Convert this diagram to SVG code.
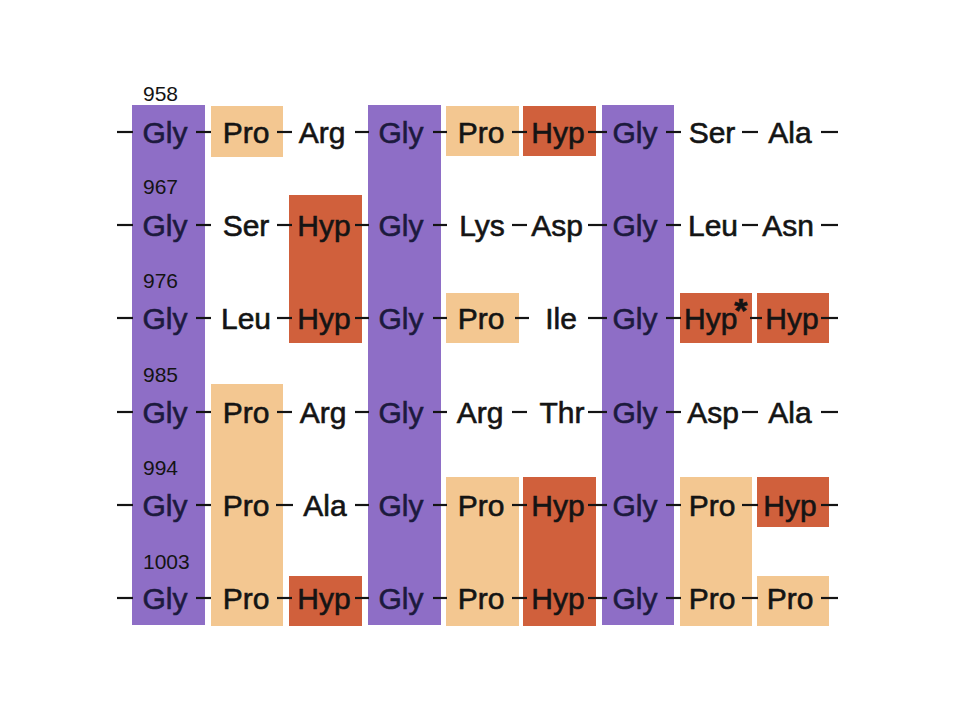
<svg xmlns="http://www.w3.org/2000/svg" width="960" height="720" viewBox="0 0 960 720">
<style>
.pu{fill:#8e6ec6}
.lt{fill:#f3c791}
.dk{fill:#d0603c}
.t{font-family:"Liberation Sans",Arial,sans-serif;font-size:30px;fill:#141414;stroke:#141414;stroke-width:0.6;text-anchor:middle}
.g{fill:#1c1a3e;stroke:#1c1a3e}
.n{font-family:"Liberation Sans",Arial,sans-serif;font-size:21px;fill:#141414}
.c line{stroke:#141414;stroke-width:2.2}
</style>
<rect width="960" height="720" fill="#ffffff"/>
<g id="bands">
<rect class="pu" x="132" y="105" width="73" height="520"/>
<rect class="pu" x="368" y="105" width="73" height="520"/>
<rect class="pu" x="602" y="105" width="72" height="520"/>
<rect class="lt" x="211" y="106" width="72" height="51"/>
<rect class="lt" x="446" y="106" width="73" height="50"/>
<rect class="lt" x="446" y="293" width="73" height="50"/>
<rect class="lt" x="211" y="384" width="72" height="242"/>
<rect class="lt" x="446" y="477" width="73" height="149"/>
<rect class="lt" x="680" y="477" width="72" height="149"/>
<rect class="lt" x="757" y="576" width="72" height="50"/>
<rect class="dk" x="523" y="106" width="73" height="50"/>
<rect class="dk" x="289" y="195" width="73" height="148"/>
<rect class="dk" x="680" y="293" width="72" height="50"/>
<rect class="dk" x="757" y="293" width="72" height="50"/>
<rect class="dk" x="523" y="477" width="73" height="149"/>
<rect class="dk" x="757" y="477" width="72" height="50"/>
<rect class="dk" x="289" y="576" width="73" height="50"/>
</g>
<g id="connectors" class="c">
<g id="conn-row1">
<line x1="117" y1="132" x2="133" y2="132"/><line x1="196" y1="132" x2="211" y2="132"/><line x1="277" y1="132" x2="292" y2="132"/><line x1="355" y1="132" x2="369" y2="132"/><line x1="433" y1="132" x2="447" y2="132"/><line x1="512" y1="132" x2="527" y2="132"/><line x1="588" y1="132" x2="607" y2="132"/><line x1="666" y1="132" x2="681" y2="132"/><line x1="742" y1="132" x2="758" y2="132"/><line x1="821" y1="132" x2="838" y2="132"/>
</g>
<g id="conn-row2">
<line x1="117" y1="225" x2="133" y2="225"/><line x1="196" y1="225" x2="211" y2="225"/><line x1="277" y1="225" x2="292" y2="225"/><line x1="355" y1="225" x2="369" y2="225"/><line x1="433" y1="225" x2="447" y2="225"/><line x1="512" y1="225" x2="527" y2="225"/><line x1="588" y1="225" x2="607" y2="225"/><line x1="666" y1="225" x2="681" y2="225"/><line x1="742" y1="225" x2="758" y2="225"/><line x1="821" y1="225" x2="838" y2="225"/>
</g>
<g id="conn-row3">
<line x1="117" y1="318" x2="133" y2="318"/><line x1="196" y1="318" x2="211" y2="318"/><line x1="277" y1="318" x2="292" y2="318"/><line x1="355" y1="318" x2="369" y2="318"/><line x1="433" y1="318" x2="447" y2="318"/><line x1="515" y1="318" x2="529" y2="318"/><line x1="588" y1="318" x2="607" y2="318"/><line x1="666" y1="318" x2="681" y2="318"/><line x1="750" y1="318" x2="762" y2="318"/><line x1="821" y1="318" x2="838" y2="318"/>
</g>
<g id="conn-row4">
<line x1="117" y1="412" x2="133" y2="412"/><line x1="196" y1="412" x2="211" y2="412"/><line x1="277" y1="412" x2="292" y2="412"/><line x1="355" y1="412" x2="369" y2="412"/><line x1="433" y1="412" x2="447" y2="412"/><line x1="512" y1="412" x2="527" y2="412"/><line x1="588" y1="412" x2="607" y2="412"/><line x1="666" y1="412" x2="681" y2="412"/><line x1="742" y1="412" x2="758" y2="412"/><line x1="821" y1="412" x2="838" y2="412"/>
</g>
<g id="conn-row5">
<line x1="117" y1="505" x2="133" y2="505"/><line x1="196" y1="505" x2="211" y2="505"/><line x1="276" y1="505" x2="293" y2="505"/><line x1="355" y1="505" x2="369" y2="505"/><line x1="433" y1="505" x2="447" y2="505"/><line x1="512" y1="505" x2="527" y2="505"/><line x1="588" y1="505" x2="607" y2="505"/><line x1="666" y1="505" x2="681" y2="505"/><line x1="742" y1="505" x2="758" y2="505"/><line x1="821" y1="505" x2="838" y2="505"/>
</g>
<g id="conn-row6">
<line x1="117" y1="598" x2="133" y2="598"/><line x1="196" y1="598" x2="211" y2="598"/><line x1="277" y1="598" x2="292" y2="598"/><line x1="355" y1="598" x2="369" y2="598"/><line x1="433" y1="598" x2="447" y2="598"/><line x1="512" y1="598" x2="527" y2="598"/><line x1="588" y1="598" x2="607" y2="598"/><line x1="666" y1="598" x2="681" y2="598"/><line x1="742" y1="598" x2="758" y2="598"/><line x1="821" y1="598" x2="838" y2="598"/>
</g>
</g>
<g id="numbers">
<text class="n" x="143" y="101">958</text>
<text class="n" x="143" y="194">967</text>
<text class="n" x="143" y="288">976</text>
<text class="n" x="143" y="382">985</text>
<text class="n" x="143" y="475">994</text>
<text class="n" x="143" y="569">1003</text>
</g>
<g id="row1">
<g id="r1c1"><text class="t g" x="165" y="143">Gly</text></g>
<g id="r1c2"><text class="t" x="246" y="143">Pro</text></g>
<g id="r1c3"><text class="t" x="322" y="143">Arg</text></g>
<g id="r1c4"><text class="t g" x="401" y="143">Gly</text></g>
<g id="r1c5"><text class="t" x="481" y="143">Pro</text></g>
<g id="r1c6"><text class="t" x="558" y="143">Hyp</text></g>
<g id="r1c7"><text class="t g" x="635" y="143">Gly</text></g>
<g id="r1c8"><text class="t" x="712" y="143">Ser</text></g>
<g id="r1c9"><text class="t" x="790" y="143">Ala</text></g>
</g>
<g id="row2">
<g id="r2c1"><text class="t g" x="165" y="236">Gly</text></g>
<g id="r2c2"><text class="t" x="246" y="236">Ser</text></g>
<g id="r2c3"><text class="t" x="324" y="236">Hyp</text></g>
<g id="r2c4"><text class="t g" x="401" y="236">Gly</text></g>
<g id="r2c5"><text class="t" x="482" y="236">Lys</text></g>
<g id="r2c6"><text class="t" x="557" y="236">Asp</text></g>
<g id="r2c7"><text class="t g" x="635" y="236">Gly</text></g>
<g id="r2c8"><text class="t" x="713" y="236">Leu</text></g>
<g id="r2c9"><text class="t" x="788" y="236">Asn</text></g>
</g>
<g id="row3">
<g id="r3c1"><text class="t g" x="165" y="329">Gly</text></g>
<g id="r3c2"><text class="t" x="246" y="329">Leu</text></g>
<g id="r3c3"><text class="t" x="324" y="329">Hyp</text></g>
<g id="r3c4"><text class="t g" x="401" y="329">Gly</text></g>
<g id="r3c5"><text class="t" x="481" y="329">Pro</text></g>
<g id="r3c6"><text class="t" x="561" y="329">Ile</text></g>
<g id="r3c7"><text class="t g" x="635" y="329">Gly</text></g>
<g id="r3c8"><text class="t" x="684" y="329" style="text-anchor:start">Hyp<tspan dx="-3" dy="-7" font-size="34" font-weight="bold">*</tspan></text></g>
<g id="r3c9"><text class="t" x="792" y="329">Hyp</text></g>
</g>
<g id="row4">
<g id="r4c1"><text class="t g" x="165" y="423">Gly</text></g>
<g id="r4c2"><text class="t" x="246" y="423">Pro</text></g>
<g id="r4c3"><text class="t" x="323" y="423">Arg</text></g>
<g id="r4c4"><text class="t g" x="401" y="423">Gly</text></g>
<g id="r4c5"><text class="t" x="480" y="423">Arg</text></g>
<g id="r4c6"><text class="t" x="562" y="423">Thr</text></g>
<g id="r4c7"><text class="t g" x="635" y="423">Gly</text></g>
<g id="r4c8"><text class="t" x="713" y="423">Asp</text></g>
<g id="r4c9"><text class="t" x="790" y="423">Ala</text></g>
</g>
<g id="row5">
<g id="r5c1"><text class="t g" x="165" y="516">Gly</text></g>
<g id="r5c2"><text class="t" x="246" y="516">Pro</text></g>
<g id="r5c3"><text class="t" x="325" y="516">Ala</text></g>
<g id="r5c4"><text class="t g" x="401" y="516">Gly</text></g>
<g id="r5c5"><text class="t" x="481" y="516">Pro</text></g>
<g id="r5c6"><text class="t" x="558" y="516">Hyp</text></g>
<g id="r5c7"><text class="t g" x="635" y="516">Gly</text></g>
<g id="r5c8"><text class="t" x="712" y="516">Pro</text></g>
<g id="r5c9"><text class="t" x="790" y="516">Hyp</text></g>
</g>
<g id="row6">
<g id="r6c1"><text class="t g" x="165" y="609">Gly</text></g>
<g id="r6c2"><text class="t" x="246" y="609">Pro</text></g>
<g id="r6c3"><text class="t" x="324" y="609">Hyp</text></g>
<g id="r6c4"><text class="t g" x="401" y="609">Gly</text></g>
<g id="r6c5"><text class="t" x="481" y="609">Pro</text></g>
<g id="r6c6"><text class="t" x="558" y="609">Hyp</text></g>
<g id="r6c7"><text class="t g" x="635" y="609">Gly</text></g>
<g id="r6c8"><text class="t" x="712" y="609">Pro</text></g>
<g id="r6c9"><text class="t" x="790" y="609">Pro</text></g>
</g>
</svg>
